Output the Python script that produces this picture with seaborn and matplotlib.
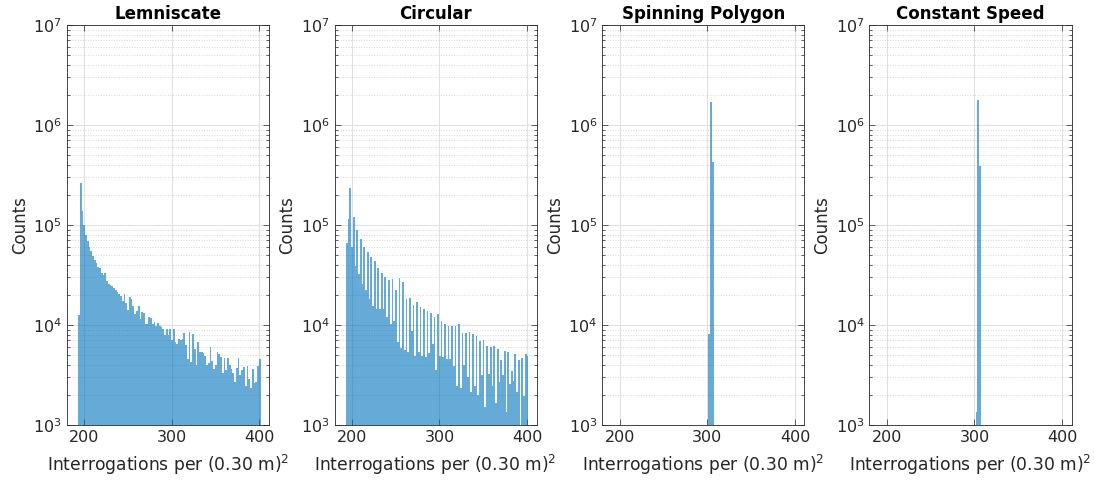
import numpy as np
import matplotlib
matplotlib.use("Agg")
import matplotlib.pyplot as plt
import seaborn as sns

titles = ["Lemniscate", "Circular", "Spinning Polygon", "Constant Speed"]

# counts per bin, bins of width 2 starting at ~193
lemniscate_counts = [
    12600, 263000, 138000, 100000, 79400, 69200, 60300, 55000, 49000, 44700,
    41700, 38000, 37200, 33100, 31600, 33100, 27500, 25700, 25100, 24500,
    23400, 22400, 21400, 20400, 19500, 17400, 20400, 16600, 14100, 19100,
    18200, 15500, 12900, 13800, 15500, 11500, 13500, 13200, 10200, 10200,
    12000, 11700, 10200, 10700, 9800, 10500, 9800, 9550, 9120, 7940,
    9120, 7940, 9120, 7080, 9120, 6760, 6460, 7240, 7080, 7240,
    8320, 6310, 4570, 8510, 4270, 8130, 5750, 3980, 6760, 5370,
    5370, 5250, 4900, 3980, 4170, 6030, 4370, 3630, 3980, 5370,
    5130, 4790, 3310, 4680, 3550, 4680, 3980, 3630, 3310, 2690,
    3720, 4680, 3160, 3550, 3800, 2450, 3890, 2880, 2340, 3630,
    2630, 2690, 3890, 4570,
]
circular_counts = [
    66100, 115000, 234000, 60300, 120000, 38900, 89100, 32400, 72400, 25700,
    60300, 22400, 53700, 18200, 47900, 15500, 43700, 14500, 37200, 14500,
    33100, 14500, 30200, 12000, 28200, 10200, 28800, 11000, 22400, 6760,
    29500, 5890, 26900, 5620, 18200, 5370, 18600, 8710, 15800, 4900,
    17000, 5370, 15100, 4900, 14500, 4790, 13800, 5250, 13200, 6460,
    12000, 3550, 12900, 4900, 11000, 4790, 10200, 4570, 9770, 4570,
    9770, 3890, 9770, 2450, 10200, 2340, 8320, 3980, 8320, 3020,
    8510, 2140, 8130, 2450, 7760, 2000, 6920, 3160, 7080, 1510,
    6170, 3240, 6030, 2450, 6170, 1660, 5750, 2690, 4470, 3160,
    5500, 1350, 5370, 2570, 3470, 2750, 5130, 2140, 4470, 980,
    4680, 1950, 5130, 4900,
]
spike_centers = [302.3, 304.3, 306.3]
spinning_counts = [8100, 1700000, 430000]
constant_counts = [1350, 1780000, 390000]

bin_start = 193.3
bin_width = 2.0
n_bins = len(lemniscate_counts)
edges = bin_start + bin_width * np.arange(n_bins + 1)
centers = edges[:-1] + bin_width / 2

series = [
    (list(centers), lemniscate_counts),
    (list(centers), circular_counts),
    (spike_centers, spinning_counts),
    (spike_centers, constant_counts),
]

plt.rcParams['font.family'] = ['DejaVu Sans']
plt.rcParams['mathtext.fontset'] = 'dejavusans'

fig = plt.figure(figsize=(10.94, 4.8), dpi=100)
lefts = [66.7, 334.5, 602.3, 869.5]
dark = '#262626'

for left, title, (xs, counts) in zip(lefts, titles, series):
    ax = fig.add_axes([left / 1094, 55 / 480, 202 / 1094, 400 / 480])
    sns.histplot(x=xs, weights=counts, bins=edges.tolist(), ax=ax,
                 color='#0072BD', alpha=0.6, linewidth=0)
    ax.set_yscale('log')
    ax.set_ylim(1e3, 1e7)
    ax.set_xlim(180.3, 410.6)
    ax.set_xticks([200, 300, 400])
    ax.set_axisbelow(True)
    ax.grid(True, which='major', color='#e0e0e0', lw=0.7)
    ax.grid(True, which='minor', axis='y', color='#d6d6d6', ls=':', lw=0.7)
    ax.tick_params(which='both', direction='in', top=True, right=True,
                   colors=dark, width=0.5, labelsize=11.5)
    ax.tick_params(which='major', length=4)
    ax.tick_params(which='minor', length=2)
    ax.tick_params(axis='x', which='minor', bottom=False, top=False)
    for sp in ax.spines.values():
        sp.set_color(dark)
        sp.set_linewidth(0.6)
    ax.set_title(title, fontsize=12, fontweight='bold', pad=4)
    ax.set_ylabel('Counts', fontsize=12, color=dark, labelpad=3)
    ax.set_xlabel('Interrogations per (0.30 m)$^2$', fontsize=12.3, color=dark,
                  labelpad=6)

fig.savefig('out.png', dpi=100)
